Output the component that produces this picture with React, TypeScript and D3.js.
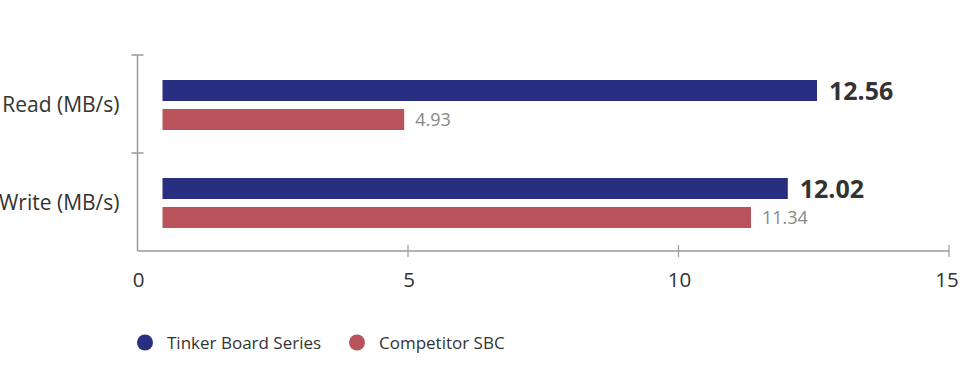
import React from "react";
import * as d3 from "d3";

const categories = ["Read (MB/s)", "Write (MB/s)"];
const seriesNames = ["Tinker Board Series", "Competitor SBC"];
const tinkerValues = [12.56, 12.02];
const competitorValues = [4.93, 11.34];
const xTicks = [0, 5, 10, 15];

const COLORS = ["#282e80", "#b8535b"];
const FONT = "'Open Sans', 'Noto Sans', sans-serif";

export default function App() {
  const W = 960;
  const H = 388;
  const x = d3.scaleLinear().domain([0, 15]).range([137.5, 949]);
  const y = d3.scaleBand<string>().domain(categories).range([55, 251]).padding(0);
  const inner = d3
    .scaleBand<string>()
    .domain(seriesNames)
    .range([25, 75])
    .paddingInner(2 - 50 / 29)
    .paddingOuter(0);
  const series = [tinkerValues, competitorValues];
  const axisColor = "#9a9a9a";
  const x0 = x(0);
  const yTop = y.range()[0];
  const yBot = y.range()[1];

  return (
    <div style={{ position: "absolute", left: 0, top: 0 }}>
      <svg width={W} height={H} style={{ display: "block", fontFamily: FONT }}>
        <rect width={W} height={H} fill="#fff" />
        {/* y axis */}
        <line x1={x0} x2={x0} y1={yTop} y2={yBot} stroke={axisColor} strokeWidth={1.5} />
        {categories.map((c) => (
          <line
            key={"yt" + c}
            x1={x0 - 6}
            x2={x0 + 6}
            y1={y(c)!}
            y2={y(c)!}
            stroke={axisColor}
            strokeWidth={1.5}
          />
        ))}
        {/* x axis */}
        <line x1={x0} x2={x(15)} y1={yBot} y2={yBot} stroke={axisColor} strokeWidth={1.5} />
        {xTicks.map((t) => (
          <g key={"xt" + t}>
            {t !== 0 && (
              <line x1={x(t)} x2={x(t)} y1={yBot - 6} y2={yBot + 6} stroke={axisColor} strokeWidth={1.2} />
            )}
            <text x={Math.min(x(t) + 1, W - 13)} y={287} textAnchor="middle" fontSize={20.5} fill="#333">
              {t}
            </text>
          </g>
        ))}
        {/* category labels */}
        {categories.map((c) => (
          <text
            key={"cl" + c}
            x={x0 - 18}
            y={y(c)! + y.bandwidth() / 2 + 7.5}
            textAnchor="end"
            fontSize={21}
            fill="#333"
          >
            {c}
          </text>
        ))}
        {/* bars */}
        {categories.map((c, ci) =>
          seriesNames.map((s, si) => {
            const v = series[si][ci];
            const by = y(c)! + inner(s)!;
            const bh = inner.bandwidth();
            const bx = x0 + 25;
            const bold = si === 0;
            return (
              <g key={"b" + c + s}>
                <rect x={bx} y={by} width={x(v) - bx} height={bh} fill={COLORS[si]} />
                <text
                  x={x(v) + (bold ? 12 : 11)}
                  y={by + bh / 2 + (bold ? 9 : 6.5)}
                  fontSize={bold ? 25 : 18}
                  fontWeight={bold ? 700 : 400}
                  fill={bold ? "#333" : "#888"}
                >
                  {v.toFixed(2)}
                </text>
              </g>
            );
          })
        )}
        {/* legend */}
        {seriesNames.map((s, i) => {
          const lx = [145, 357][i];
          return (
            <g key={"lg" + s}>
              <circle cx={lx} cy={342.5} r={8} fill={COLORS[i]} />
              <text x={lx + 22} y={349} fontSize={17} fill="#333">
                {s}
              </text>
            </g>
          );
        })}
      </svg>
    </div>
  );
}
